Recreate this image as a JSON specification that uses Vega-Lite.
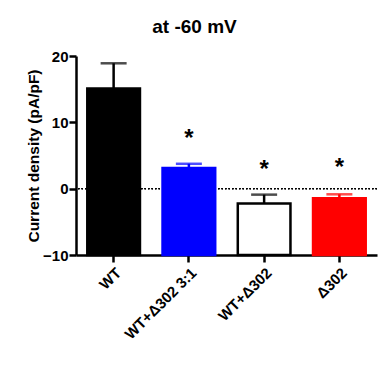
{
  "$schema": "https://vega.github.io/schema/vega-lite/v6.json",
  "autosize": {"type": "none"},
  "padding": {"left": 76, "top": 56, "right": 6, "bottom": 124},
  "width": 301,
  "height": 199,
  "background": "white",
  "title": {"text": "at -60 mV", "font": "Liberation Sans", "fontSize": 19, "fontWeight": "bold", "color": "black", "anchor": "middle", "dx": -32, "offset": 12},
  "config": {
    "view": {"stroke": null},
    "axis": {"labelFont": "Liberation Sans", "labelFontWeight": "bold", "labelFontSize": 15, "labelColor": "black", "titleFont": "Liberation Sans", "titleFontWeight": "bold", "titleFontSize": 15.5, "titleColor": "black", "domainColor": "black", "tickColor": "black", "domainWidth": 2.5, "tickWidth": 2.5, "grid": false}
  },
  "data": {"values": [
    {"group": "WT", "mean": 15.1, "upper": 18.9, "star": null, "fill": "#000000", "stroke": "#000000"},
    {"group": "WT+Δ302 3:1", "mean": 3.1, "upper": 3.75, "star": 8.2, "fill": "#0000ff", "stroke": "#0000ff"},
    {"group": "WT+Δ302", "mean": -2.25, "upper": -0.9, "star": 3.6, "fill": "#ffffff", "stroke": "#000000"},
    {"group": "Δ302", "mean": -1.45, "upper": -0.85, "star": 3.8, "fill": "#ff0000", "stroke": "#ff0000"}
  ]},
  "encoding": {
    "x": {"field": "group", "type": "nominal", "sort": null,
      "scale": {"paddingInner": 0.3, "paddingOuter": 0.15},
      "axis": {"title": null, "labelAngle": -45, "labelAlign": "right", "labelBaseline": "top", "tickSize": 7, "labelPadding": 3}}
  },
  "layer": [
    {
      "mark": {"type": "rule", "strokeDash": [1.5, 2], "strokeWidth": 1.2, "color": "black"},
      "encoding": {"y": {"datum": 0, "type": "quantitative"}, "x": null}
    },
    {
      "mark": {"type": "rule", "strokeWidth": 2.5},
      "encoding": {
        "y": {"field": "mean", "type": "quantitative"},
        "y2": {"field": "upper"},
        "color": {"field": "stroke", "type": "nominal", "scale": null}
      }
    },
    {
      "mark": {"type": "tick", "orient": "horizontal", "size": 26, "thickness": 2.5},
      "encoding": {
        "y": {"field": "upper", "type": "quantitative"},
        "color": {"field": "stroke", "type": "nominal", "scale": null}
      }
    },
    {
      "mark": {"type": "bar", "strokeWidth": 2.5},
      "encoding": {
        "y": {"field": "mean", "type": "quantitative",
          "scale": {"domain": [-10, 20], "nice": false, "zero": false},
          "axis": {"title": "Current density (pA/pF)", "values": [-10, -5, 0, 5, 10, 15, 20], "labelExpr": "datum.value % 10 === 0 ? datum.label : ''",
            "tickSize": {"condition": {"test": "datum.value % 10 === 0", "value": 7}, "value": 4}, "labelPadding": 1, "titlePadding": 1}},
        "y2": {"datum": -10},
        "fill": {"field": "fill", "type": "nominal", "scale": null},
        "stroke": {"field": "stroke", "type": "nominal", "scale": null}
      }
    },
    {
      "mark": {"type": "text", "text": "*", "font": "Liberation Sans", "fontWeight": "bold", "fontSize": 24, "baseline": "middle", "color": "black", "dy": 5},
      "encoding": {
        "y": {"field": "star", "type": "quantitative"}
      }
    }
  ]
}
